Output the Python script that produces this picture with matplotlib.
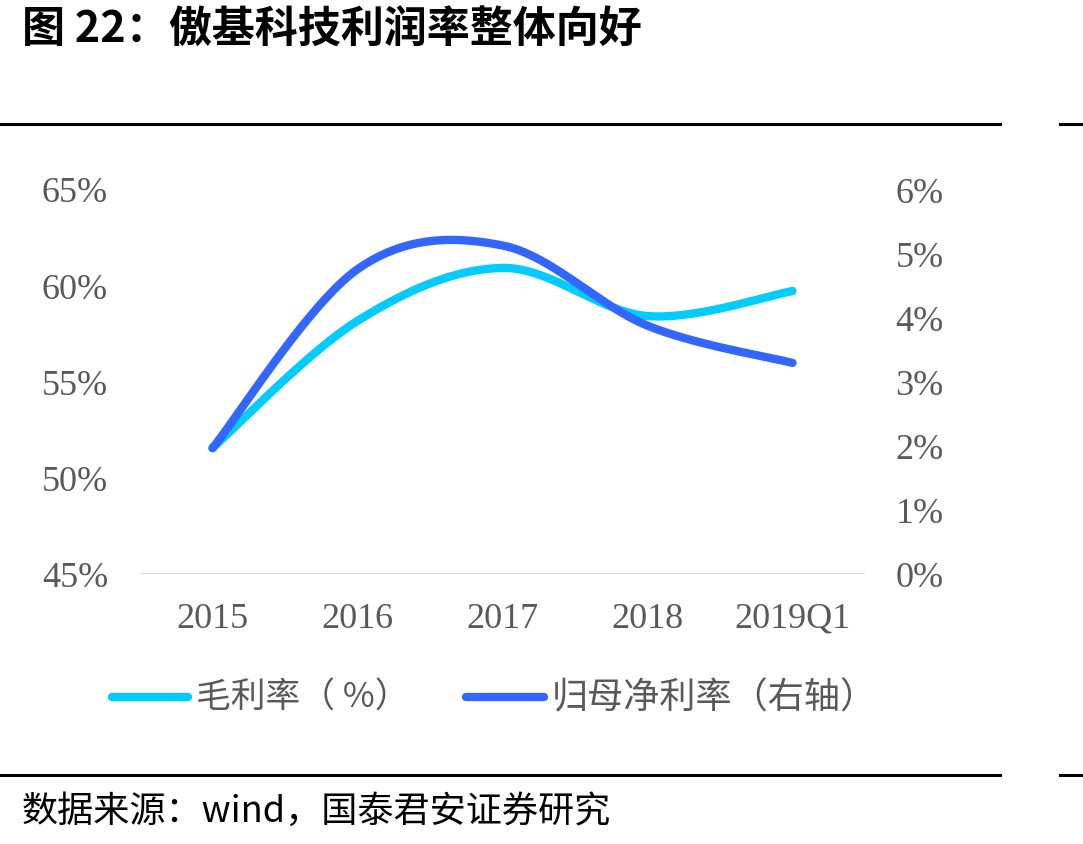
import numpy as np
import matplotlib
matplotlib.use("Agg")
import matplotlib.pyplot as plt
from matplotlib.lines import Line2D

plt.rcParams['font.family'] = ['Noto Sans CJK SC', 'DejaVu Sans']

# ---- data --------------------------------------------------------------
categories = ["2015", "2016", "2017", "2018", "2019Q1"]
gross_margin = [51.55, 58.15, 60.9, 58.4, 59.7]      # left axis, %
net_margin = [1.96, 4.75, 5.12, 3.87, 3.29]          # right axis, %
left_ticks = [45, 50, 55, 60, 65]
right_ticks = [0, 1, 2, 3, 4, 5, 6]

CYAN = "#00CCFF"
BLUE = "#3366FF"
GREY = "#595959"
SERIF = "Liberation Serif"


def smooth(ys, n=40):
    # Excel-style smoothed line: cubic Bezier, Catmull-Rom control points
    xs = np.arange(len(ys), dtype=float)
    P = np.column_stack([xs, np.asarray(ys, dtype=float)])
    out = []
    for i in range(len(P) - 1):
        p0 = P[i - 1] if i > 0 else P[i]
        p1, p2 = P[i], P[i + 1]
        p3 = P[i + 2] if i + 2 < len(P) else P[i + 1]
        c1 = p1 + (p2 - p0) / 6.0
        c2 = p2 - (p3 - p1) / 6.0
        t = np.linspace(0, 1, n)[:, None]
        seg = ((1 - t) ** 3) * p1 + 3 * ((1 - t) ** 2) * t * c1 \
            + 3 * (1 - t) * t ** 2 * c2 + t ** 3 * p2
        out.append(seg if i == 0 else seg[1:])
    seg = np.vstack(out)
    return seg[:, 0], seg[:, 1]


fig = plt.figure(figsize=(10.83, 8.45), dpi=100)
ax = fig.add_axes([140 / 1083, 1 - 575 / 845, 725 / 1083, 385 / 845])
ax2 = ax.twinx()

sx, sy = smooth(gross_margin)
ax.plot(sx, sy, color=CYAN, lw=6, solid_capstyle="round", zorder=3)
bx, by = smooth(net_margin)
ax2.plot(bx, by, color=BLUE, lw=6, solid_capstyle="round", zorder=3)

ax.set_xlim(-0.5, 4.5)
ax.set_ylim(45, 65)
ax2.set_ylim(0, 6)
ax.axhline(45, color="#D9D9D9", lw=2, zorder=1)

ax.set_xticks(range(len(categories)))
ax.set_xticklabels(categories)
ax.set_yticks(left_ticks)
ax.set_yticklabels([f"{v}%" for v in left_ticks])
ax2.set_yticks(right_ticks)
ax2.set_yticklabels([f"{v}%" for v in right_ticks])

for a in (ax, ax2):
    for s in a.spines.values():
        s.set_visible(False)
    a.tick_params(length=0, colors=GREY, labelsize=26)
    for lab in a.get_xticklabels() + a.get_yticklabels():
        lab.set_fontfamily(SERIF)
ax.tick_params(axis="y", pad=23)
ax.tick_params(axis="x", pad=20)
ax2.tick_params(axis="y", pad=22)

# ---- legend drawn by hand ----------------------------------------------
def fx(px):
    return px / 1083


def fy(py):
    return 1 - py / 845


fig.add_artist(Line2D([fx(112), fx(188)], [fy(698), fy(698)], color=CYAN,
                      lw=6, solid_capstyle="round"))
fig.text(fx(196), fy(698), "毛利率（ %）", color=GREY, fontsize=25,
         va="center", ha="left")
fig.add_artist(Line2D([fx(466), fx(544)], [fy(698), fy(698)], color=BLUE,
                      lw=6, solid_capstyle="round"))
fig.text(fx(552), fy(698), "归母净利率（右轴）", color=GREY, fontsize=26,
         va="center", ha="left")

# ---- frame, title and source -------------------------------------------
for py in (125, 776):
    fig.add_artist(Line2D([0, fx(1000)], [fy(py), fy(py)], color="black", lw=2.2))
    fig.add_artist(Line2D([fx(1060), 1], [fy(py), fy(py)], color="black", lw=2.2))

fig.text(fx(22), fy(30), "图 22：傲基科技利润率整体向好", fontsize=31,
         fontweight="bold", va="center", ha="left", color="black")
fig.text(fx(22), fy(812), "数据来源：wind，国泰君安证券研究", fontsize=26,
         va="center", ha="left", color="black")

fig.savefig("out.png", dpi=100)
